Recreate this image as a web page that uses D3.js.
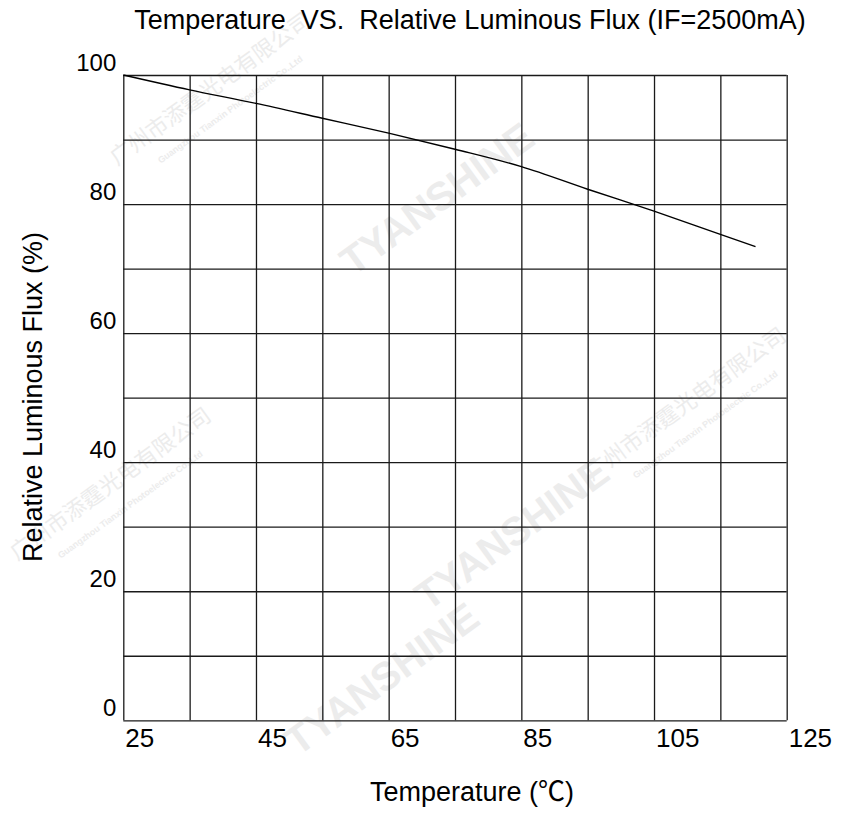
<!DOCTYPE html>
<html>
    <head>
        <meta charset="utf-8">
        <title>Temperature VS. Relative Luminous Flux</title>
        <script src="https://d3js.org/d3.v7.min.js"></script>
    </head>
    <style>
        body { margin: 0; background: #fff; }
        text { font-family: "Liberation Sans", Arial, "Noto Sans CJK SC", sans-serif; fill: #000; }
    </style>
    <body>

        <div id="chart"></div>

        <script>
            // values
            var temps  = [25, 35, 45, 55, 65, 75, 85, 95, 105, 115, 120.3];
            var flux   = [100, 97.7, 95.6, 93.3, 91.0, 88.5, 85.8, 82.3, 78.9, 75.3, 73.4];
            var xTicks = [25, 45, 65, 85, 105, 125];
            var yTicks = [0, 20, 40, 60, 80, 100];
            var xGrid  = d3.range(25, 126, 10);
            var yGrid  = d3.range(0, 101, 10);

            var W = 841, H = 821;
            var margin = {top: 75, right: 54.3, bottom: 100.7, left: 123.3},
                width = W - margin.left - margin.right,
                height = H - margin.top - margin.bottom;

            var svg = d3.select("#chart")
              .append("svg")
                .attr("width", W)
                .attr("height", H);

            // faint watermarks behind everything
            var wm = svg.append("g").style("pointer-events", "none");
            function mark(txt, x, y, size, weight) {
                wm.append("text")
                    .attr("transform", "translate(" + x + "," + y + ") rotate(-36)")
                    .attr("text-anchor", "middle")
                    .style("font-size", size + "px")
                    .style("font-weight", weight)
                    .style("fill", "#ececec")
                    .text(txt);
            }
            mark("TYANSHINE", 445, 210, 40, "bold");
            mark("TYANSHINE", 520, 545, 40, "bold");
            mark("TYANSHINE", 390, 690, 40, "bold");
            mark("广州市添霆光电有限公司", 215, 95, 22, "normal");
            mark("Guangzhou Tianxin Photoelectric Co.,Ltd", 232, 112, 9, "bold");
            mark("广州市添霆光电有限公司", 690, 410, 22, "normal");
            mark("Guangzhou Tianxin Photoelectric Co.,Ltd", 707, 427, 9, "bold");
            mark("广州市添霆光电有限公司", 115, 490, 22, "normal");
            mark("Guangzhou Tianxin Photoelectric Co.,Ltd", 132, 507, 9, "bold");

            var g = svg.append("g")
                .attr("transform", "translate(" + margin.left + "," + margin.top + ")");

            var x = d3.scaleLinear().domain([25, 125]).range([0, width]);
            var y = d3.scaleLinear().domain([0, 100]).range([height, 0]);

            // grid lines from the axes
            g.append("g")
                .attr("transform", "translate(0," + height + ")")
                .call(d3.axisBottom(x).tickValues(xGrid).tickSize(-height).tickFormat(""))
                .call(function(a) { a.select(".domain").remove(); });
            g.append("g")
                .call(d3.axisLeft(y).tickValues(yGrid).tickSize(-width).tickFormat(""))
                .call(function(a) { a.select(".domain").remove(); });
            g.selectAll(".tick line").attr("stroke", "#1a1a1a").attr("stroke-width", 1.3);

            // tick labels
            g.selectAll(".xlab").data(xTicks).enter().append("text")
                .attr("class", "xlab")
                .attr("x", function(d) { return x(d) + 2; })
                .attr("y", height + 27)
                .style("font-size", "26px")
                .text(function(d) { return d; });

            g.selectAll(".ylab").data(yTicks).enter().append("text")
                .attr("class", "ylab")
                .attr("x", -7)
                .attr("y", function(d) { return y(d) - 4; })
                .attr("text-anchor", "end")
                .style("font-size", "24px")
                .text(function(d) { return d; });

            // the curve
            var pts = temps.map(function(t, i) { return [t, flux[i]]; });
            g.append("path")
                .datum(pts)
                .attr("fill", "none")
                .attr("stroke", "#000")
                .attr("stroke-width", 1.4)
                .attr("d", d3.line()
                    .curve(d3.curveMonotoneX)
                    .x(function(d) { return x(d[0]); })
                    .y(function(d) { return y(d[1]); }));

            // titles
            svg.append("text")
                .attr("x", 470)
                .attr("y", 29)
                .attr("text-anchor", "middle")
                .style("font-size", "27px")
                .style("white-space", "pre")
                .text("Temperature  VS.  Relative Luminous Flux (IF=2500mA)");

            svg.append("text")
                .attr("x", 472)
                .attr("y", 801)
                .attr("text-anchor", "middle")
                .style("font-size", "27px")
                .text("Temperature (℃)");

            svg.append("text")
                .attr("transform", "translate(42,397) rotate(-90)")
                .attr("text-anchor", "middle")
                .style("font-size", "27px")
                .text("Relative Luminous Flux (%)");
        </script>
    </body>
</html>
